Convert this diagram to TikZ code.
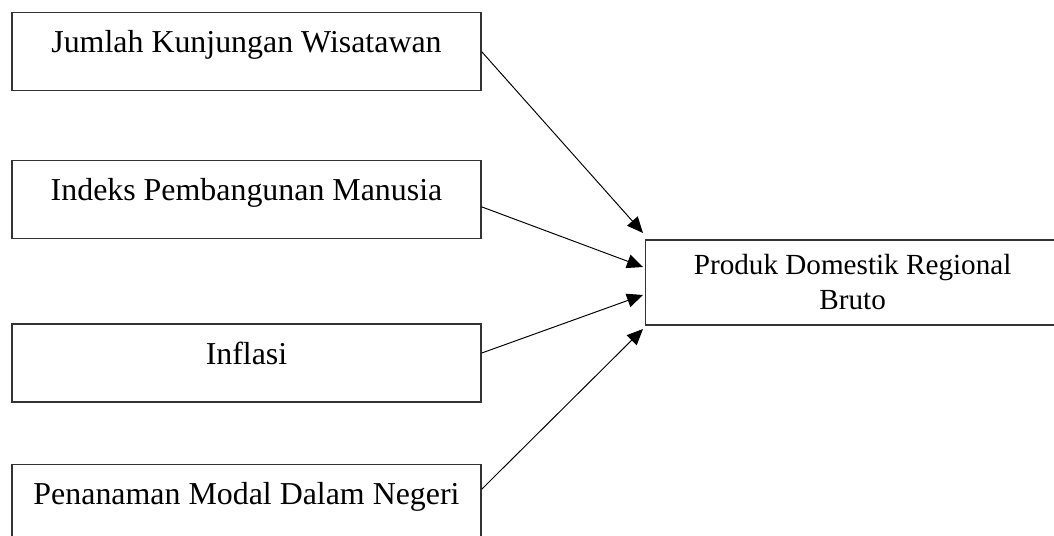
\documentclass[tikz,border=0pt]{standalone}
\usepackage{fontspec}
\setmainfont{Liberation Serif}
\usepackage{tikz}
\usetikzlibrary{positioning,arrows.meta}

\begin{document}
\begin{tikzpicture}[
  varbox/.style={draw=black!80, line width=0.7pt, minimum width=9.38cm,
    text height=0.8cm, text depth=0.76cm, inner ysep=0pt, align=center,
    font=\fontsize{18.15}{21.8}\selectfont},
  outbox/.style={draw=black!80, line width=0.7pt, minimum width=8.28cm,
    minimum height=1.7cm, align=center, inner sep=0pt,
    font=\fontsize{16.6}{19.9}\selectfont},
  link/.style={black, line width=0.55pt, -{Triangle[length=0.32cm, width=0.28cm]}}]
  \clip (0,0) rectangle (21.08,10.72);
  \node[varbox, anchor=north] (jkw) at (4.93,10.48) {Jumlah Kunjungan Wisatawan};
  \node[varbox, below=1.38cm of jkw] (ipm) {Indeks Pembangunan Manusia};
  \node[varbox, below=1.68cm of ipm] (inf) {Inflasi};
  \node[varbox, below=1.22cm of inf] (pmdn) {Penanaman Modal Dalam Negeri};
  \node[outbox, anchor=west] (pdrb) at (12.9,5.07) {Produk Domestik Regional\\Bruto};
  \draw[link] (jkw.east) -- ([xshift=-0.04cm, yshift=0.99cm]pdrb.west);
  \draw[link] ([yshift=-0.14cm]ipm.east) -- ([xshift=-0.04cm, yshift=0.31cm]pdrb.west);
  \draw[link] ([yshift=0.2cm]inf.east) -- ([xshift=-0.04cm, yshift=-0.25cm]pdrb.west);
  \draw[link] ([yshift=0.28cm]pmdn.east) -- ([xshift=-0.04cm, yshift=-0.93cm]pdrb.west);
\end{tikzpicture}
\end{document}
